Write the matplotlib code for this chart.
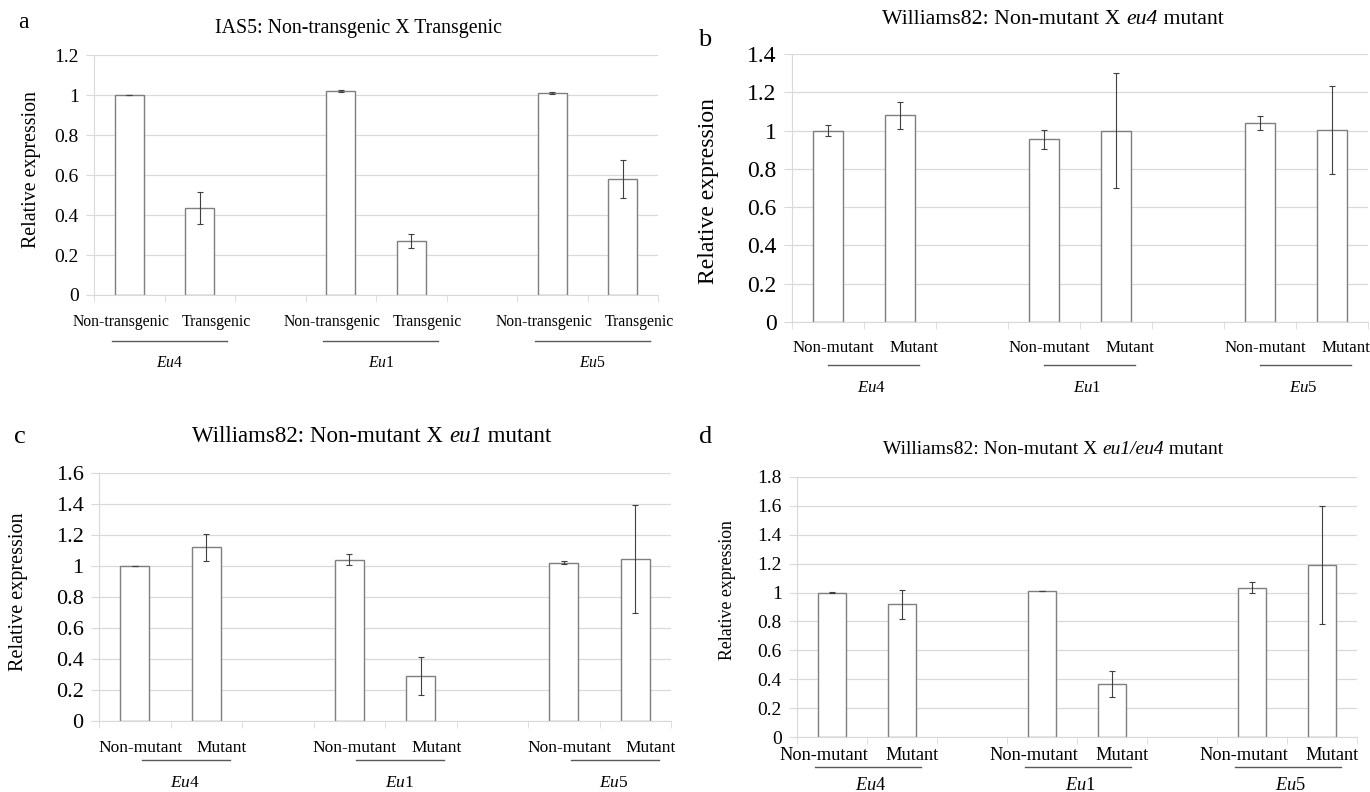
import numpy as np
import matplotlib
matplotlib.use('Agg')
import matplotlib.pyplot as plt

plt.rcParams['font.family'] = ['Liberation Serif', 'DejaVu Serif']
plt.rcParams['mathtext.fontset'] = 'custom'
plt.rcParams['mathtext.rm'] = 'Liberation Serif'
plt.rcParams['mathtext.it'] = 'Liberation Serif:italic'

# ---- data ----
genes = ['$\\mathit{Eu}$4', '$\\mathit{Eu}$1', '$\\mathit{Eu}$5']
slots = [0, 1, 3, 4, 6, 7]  # Excel layout: blank category between gene groups

a_cats = ['Non-transgenic', 'Transgenic']
a_means = [1.00, 0.435, 1.02, 0.27, 1.01, 0.58]
a_errs = [0.002, 0.078, 0.005, 0.033, 0.003, 0.095]

b_cats = ['Non-mutant', 'Mutant']
b_means = [1.00, 1.08, 0.955, 1.00, 1.04, 1.005]
b_errs = [0.03, 0.07, 0.05, 0.30, 0.035, 0.23]

c_cats = ['Non-mutant', 'Mutant']
c_means = [1.00, 1.12, 1.04, 0.29, 1.02, 1.045]
c_errs = [0.002, 0.088, 0.035, 0.125, 0.01, 0.35]

d_cats = ['Non-mutant', 'Mutant']
d_means = [1.00, 0.92, 1.01, 0.37, 1.035, 1.19]
d_errs = [0.002, 0.10, 0.002, 0.09, 0.04, 0.41]

W, H = 1370, 792
fig = plt.figure(figsize=(W / 100, H / 100), dpi=100)
renderer = fig.canvas.get_renderer()


def rect(l, t, r, b):
    return [l / W, 1 - b / H, (r - l) / W, (b - t) / H]


GRID = '#d9d9d9'


def panel(box, means, errs, cats, ymax, tick_fs, lab_fs, offs, shifts):
    ax = fig.add_axes(rect(*box))
    hpx = box[3] - box[1]
    ax.bar(slots, means, width=0.41, color='white', edgecolor='#7f7f7f',
           linewidth=1.0, zorder=2)
    ax.errorbar(slots, means, yerr=errs, fmt='none', ecolor='#404040',
                elinewidth=0.8, capsize=2, capthick=0.8, zorder=3)
    ax.set_xlim(-0.5, 7.5)
    ax.set_ylim(0, ymax)
    yt = np.arange(0, ymax + 1e-6, 0.2)
    ax.set_yticks(yt)
    ax.set_yticklabels([f'{round(v, 1):g}' for v in yt], fontsize=tick_fs)
    ax.yaxis.grid(True, color=GRID, lw=0.9)
    ax.set_axisbelow(True)
    for s in ['top', 'right']:
        ax.spines[s].set_visible(False)
    for s in ['left', 'bottom']:
        ax.spines[s].set_color(GRID)
    ax.tick_params(axis='y', length=6, color=GRID, pad=5)
    ax.set_xticks([])
    ax.set_xticks(np.arange(-0.5, 8, 1), minor=True)
    ax.tick_params(axis='x', which='minor', length=5, color=GRID)

    tr = ax.get_xaxis_transform()
    y_lab, y_line, y_gene = [-o / hpx for o in offs]
    s_non, s_mut, u0, u1, g = shifts
    for i, gene in enumerate(genes):
        p0, p1 = slots[2 * i], slots[2 * i + 1]
        ax.text(p0 + s_non, y_lab, cats[0], transform=tr, ha='center',
                va='center', fontsize=lab_fs)
        ax.text(p1 + s_mut, y_lab, cats[1], transform=tr, ha='center',
                va='center', fontsize=lab_fs)
        ax.plot([p0 + u0, p1 + u1], [y_line, y_line], transform=tr,
                clip_on=False, color='#595959', lw=1.0)
        ax.text(p0 + g, y_gene, gene, transform=tr, ha='center',
                va='center', fontsize=lab_fs)
    return ax


panel((94, 55, 658, 295), a_means, a_errs, a_cats, 1.2, 14, 11.3,
      (27, 46, 68), (-0.12, 0.23, -0.25, 0.38, 0.57))
panel((792, 54, 1368, 322), b_means, b_errs, b_cats, 1.4, 17, 12.2,
      (26, 43, 66), (0.08, 0.2, 0.0, 0.26, 0.6))
panel((99, 473, 671, 721), c_means, c_errs, c_cats, 1.6, 16, 12.5,
      (27, 39, 62), (0.08, 0.22, 0.1, 0.33, 0.7))
panel((797, 477, 1357, 737), d_means, d_errs, d_cats, 1.8, 14, 13.2,
      (19, 30, 49), (-0.11, 0.14, -0.24, 0.27, 0.55))


def ftext(x, y, s, **kw):
    fig.text(x / W, 1 - y / H, s, ha='center', va='center', **kw)


def mixed(xc, y, parts, fs):
    # lay out upright / italic pieces side by side, centred on xc
    objs = [fig.text(0, 1 - y / H, s, style=st, fontsize=fs, va='center')
            for s, st in parts]
    widths = [o.get_window_extent(renderer).width for o in objs]
    x = xc - sum(widths) / 2
    for o, w in zip(objs, widths):
        o.set_x(x / W)
        x += w


# titles
ftext(358, 28, 'IAS5: Non-transgenic X Transgenic', fontsize=14.3)
mixed(1053, 20, [('Williams82: Non-mutant X ', 'normal'), ('eu4', 'italic'),
                 (' mutant', 'normal')], 15.7)
mixed(372, 437, [('Williams82: Non-mutant X ', 'normal'), ('eu1', 'italic'),
                 (' mutant', 'normal')], 16.5)
mixed(1053, 449, [('Williams82: Non-mutant X ', 'normal'),
                  ('eu1/eu4', 'italic'), (' mutant', 'normal')], 14)

# panel letters
ftext(23, 22, 'a', fontsize=17)
ftext(705, 40, 'b', fontsize=19)
ftext(20, 437, 'c', fontsize=19)
ftext(706, 437, 'd', fontsize=19)

# y-axis titles
ftext(32, 170, 'Relative expression', fontsize=14.3, rotation=90)
ftext(709, 191, 'Relative expression', fontsize=17, rotation=90)
ftext(19, 592, 'Relative expression', fontsize=14.5, rotation=90)
ftext(727, 590, 'Relative expression', fontsize=12.8, rotation=90)

fig.savefig('out.png', dpi=100, facecolor='white')
